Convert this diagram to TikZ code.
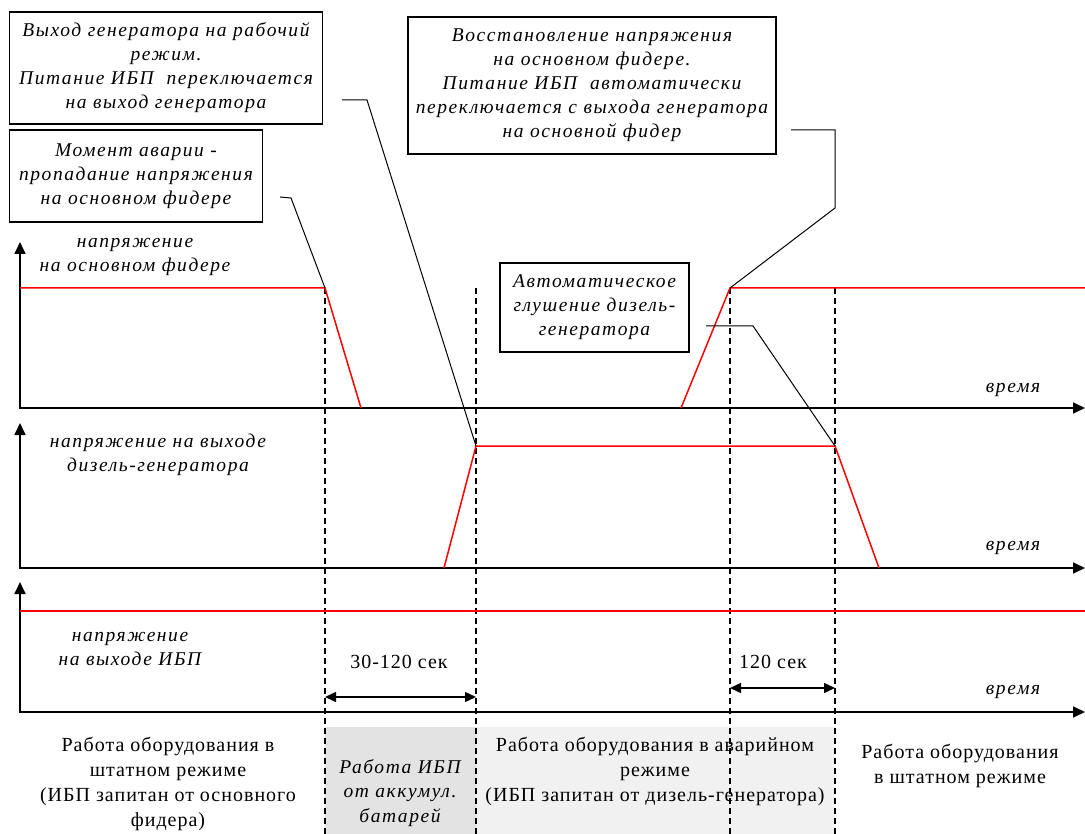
\documentclass[tikz,border=0pt]{standalone}
\usepackage{fontspec}
\setmainfont{Liberation Serif}
\newfontfamily\lblfont{Liberation Serif}[LetterSpace=8]
\newfontfamily\rmlblfont{Liberation Serif}[LetterSpace=5]
\usetikzlibrary{arrows.meta}
\tikzset{
  axisline/.style={line width=1.6pt,{Triangle[length=12pt,width=11pt]}-{Triangle[length=12pt,width=11pt]}},
  sig/.style={red,line width=1.5pt},
  guide/.style={line width=1.3pt,dash pattern=on 6pt off 4pt},
  lead/.style={line width=1pt},
  cbox/.style={draw,line width=1.5pt,inner sep=0pt,align=center,font=\lblfont\itshape\fontsize{19.5}{24}\selectfont},
  ilbl/.style={inner sep=0pt,align=center,font=\lblfont\itshape\fontsize{19.5}{24.5}\selectfont},
  rlbl/.style={inner sep=0pt,align=center,font=\rmlblfont\fontsize{20}{25}\selectfont},
  dimarrow/.style={line width=1.5pt,{Triangle[length=11pt,width=10pt]}-{Triangle[length=11pt,width=10pt]}}
}
\begin{document}
\begin{tikzpicture}[x=1pt,y=-1pt]
\useasboundingbox (0,0) rectangle (1085,834);
% shading
\fill[gray!22] (325,727) rectangle (476,834);
\fill[gray!11] (476,727) rectangle (835,834);
% key points
\coordinate (f0) at (20,288);
\coordinate (f1) at (325,288);
\coordinate (f2) at (361,408);
\coordinate (f3) at (681,408);
\coordinate (f4) at (730,288);
\coordinate (f5) at (1085,288);
\coordinate (g1) at (444,568);
\coordinate (g2) at (476,446);
\coordinate (g3) at (835,446);
\coordinate (g4) at (879,568);
\coordinate (u0) at (20,611);
\coordinate (u1) at (1085,611);
% axes
\draw[axisline] (20,242) |- (1085,408);
\draw[axisline] (20,423) |- (1085,568);
\draw[axisline] (20,582) |- (1085,712);
% guides
\draw[guide] (325,288) -- (325,834);
\draw[guide] (476,288) -- (476,834);
\draw[guide] (730,288) -- (730,834);
\draw[guide] (835,288) -- (835,834);
% signals
\draw[sig] (f0) -- (f1) -- (f2);
\draw[sig] (f3) -- (f4) -- (f5);
\draw[sig] (g1) -- (g2) -- (g3) -- (g4);
\draw[sig] (u0) -- (u1);
% boxes
\node[cbox,minimum width=313pt,minimum height=112pt] (boxA) at (166,68)
  {Выход генератора на рабочий\\режим.\\Питание ИБП \ переключается\\на выход генератора};
\node[cbox,minimum width=253pt,minimum height=92pt] (boxB) at (136,176)
  {Момент аварии -\\пропадание напряжения\\на основном фидере};
\node[cbox,minimum width=368pt,minimum height=137pt] (boxC) at (592,85.5)
  {Восстановление напряжения\\на основном фидере.\\Питание ИБП \ автоматически\\переключается с выхода генератора\\на основной фидер};
\node[cbox,fill=white,minimum width=189pt,minimum height=89pt] (boxD) at (594.5,307.5)
  {Автоматическое\\глушение дизель-\\генератора};
% leaders
\coordinate (la) at (342,100);
\coordinate (lb) at (280,197);
\coordinate (lc) at (791,130);
\coordinate (ld) at (706,326);
\draw[lead] (la) -- (367,100) -- (g2);
\draw[lead] (lb) -- (291,198) -- (f1);
\draw[lead] (lc) -- (835,130) -- (835,208) -- (f4);
\draw[lead] (ld) -- (753,326) -- (g3);
% axis labels
\node[ilbl] (ax1) at (135,257) {напряжение\\на основном фидере};
\node[ilbl] (ax2) at (158,455) {напряжение на выходе\\дизель-генератора};
\node[ilbl] (ax3) at (130,649) {напряжение\\на выходе ИБП};
\node[ilbl] (t1) at (1013,390) {время};
\node[ilbl] (t2) at (1013,548) {время};
\node[ilbl] (t3) at (1013,692) {время};
% durations
\coordinate (d1a) at (325,697);
\coordinate (d1b) at (476,697);
\coordinate (d2a) at (730,688);
\coordinate (d2b) at (835,688);
\draw[dimarrow] (d1a) -- (d1b);
\draw[dimarrow] (d2a) -- (d2b);
\node[rlbl] (dl1) at (399,662) {30-120 сек};
\node[rlbl] (dl2) at (773,662) {120 сек};
% phases
\node[rlbl] (p1) at (168,784) {Работа оборудования в\\штатном режиме\\(ИБП запитан от основного\\фидера)};
\node[ilbl] (p2) at (400,793) {Работа ИБП\\от аккумул.\\батарей};
\node[rlbl] (p3) at (655,771) {Работа оборудования в аварийном\\режиме\\(ИБП запитан от дизель-генератора)};
\node[rlbl] (p4) at (960,766) {Работа оборудования\\в штатном режиме};
\end{tikzpicture}
\end{document}
